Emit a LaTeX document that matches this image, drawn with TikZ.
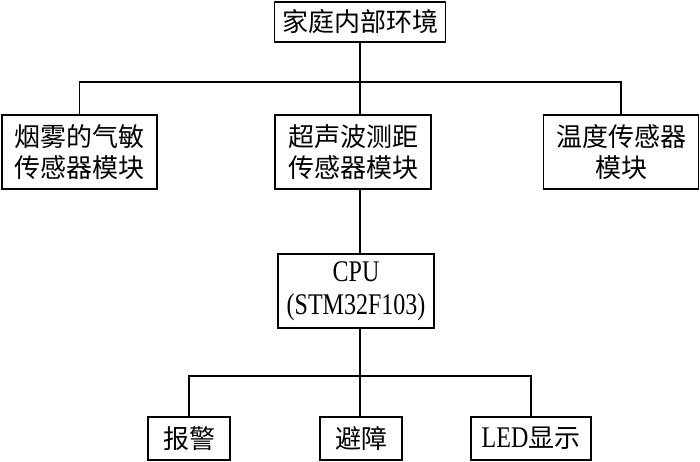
\documentclass[tikz,border=0pt]{standalone}
\usepackage{fontspec}
\setmainfont{Liberation Serif}[FakeStretch=0.8]
\newfontfamily\cjk{Noto Sans CJK SC}
\begin{document}
\begin{tikzpicture}[x=1pt,y=-1pt,
  box/.style={draw=black,line width=1.5pt,fill=white,inner sep=0pt,align=center,
    font=\fontsize{26}{31}\selectfont\cjk},
  wire/.style={line width=1.5pt,draw=black}]
\useasboundingbox (0,0) rectangle (700,461);
\node[box,minimum width=171pt,minimum height=40pt] (top) at (360,22) {家庭内部环境};
\node[box,minimum width=155pt,minimum height=74pt] (left) at (79.5,152) {烟雾的气敏\\传感器模块};
\node[box,minimum width=156pt,minimum height=74pt] (mid) at (353,152) {超声波测距\\传感器模块};
\node[box,minimum width=155pt,minimum height=74pt] (right) at (621,152) {温度传感器\\模块};
\node[box,minimum width=156pt,minimum height=74pt,font=\fontsize{30}{33}\selectfont] (cpu) at (356,291) {CPU\\(STM32F103)};
\node[box,minimum width=82pt,minimum height=43pt] (alarm) at (189,438.5) {报警};
\node[box,minimum width=82pt,minimum height=43pt] (avoid) at (361,438.5) {避障};
\node[box,minimum width=120pt,minimum height=43pt] (led) at (531,438.5) {{\rmfamily\fontsize{30}{31}\selectfont LED}显示};
\coordinate (bar1) at (360,82);
\coordinate (bar2) at (360,376);
\draw[wire] (top.south) -- (top.south |- mid.north);
\draw[wire] (left.north) |- (bar1) -| (right.north);
\draw[wire] (top.south |- mid.south) -- (top.south |- cpu.north);
\draw[wire] (top.south |- cpu.south) -- (bar2);
\draw[wire] (alarm.north) |- (bar2) -| (led.north);
\draw[wire] (bar2) -- (bar2 |- avoid.north);
\end{tikzpicture}
\end{document}
